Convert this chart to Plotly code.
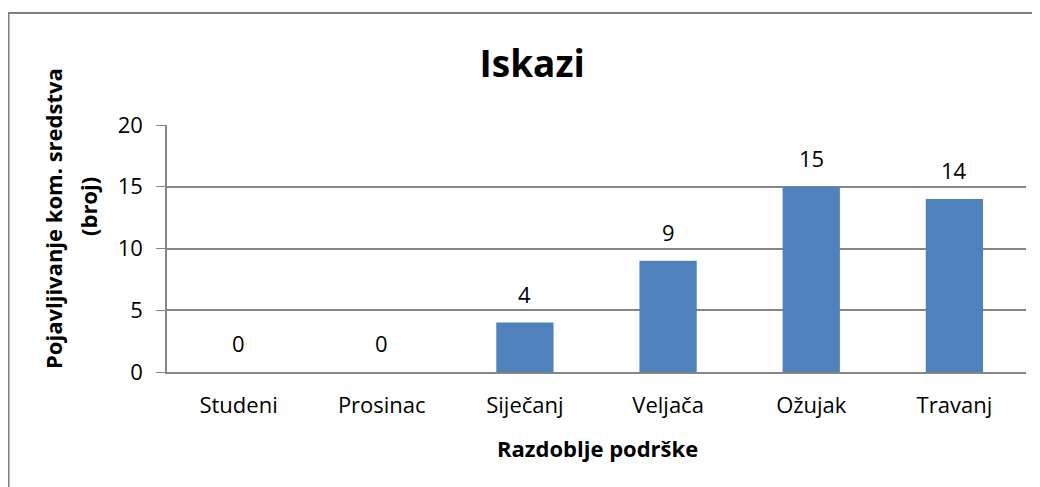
import plotly.graph_objects as go

months = ["Studeni", "Prosinac", "Siječanj", "Veljača", "Ožujak", "Travanj"]
counts = [0, 0, 4, 9, 15, 14]
y_ticks = [0, 5, 10, 15, 20]

FONT = "Open Sans"
GRID = "#868686"

fig = go.Figure(
    go.Bar(
        x=months,
        y=counts,
        marker=dict(color="#4F81BD", line=dict(width=0)),
        hoverinfo="x+y",
    )
)

# page body adds 8px, so margins are measured from that offset
fig.update_layout(
    width=1040,
    height=487,
    margin=dict(l=159, r=22, t=117, b=123),
    paper_bgcolor="white",
    plot_bgcolor="white",
    bargap=0.6,
    showlegend=False,
    font=dict(family=FONT, size=22, color="black"),
    title=dict(
        text="<b>Iskazi</b>",
        x=0.504,
        xanchor="center",
        y=1 - 56 / 487,
        yanchor="middle",
        font=dict(family=FONT, size=37, color="black"),
    ),
)

fig.update_yaxes(
    range=[0, 20],
    tickvals=y_ticks,
    showgrid=True,
    gridcolor=GRID,
    gridwidth=1.5,
    showline=True,
    linecolor=GRID,
    linewidth=1.5,
    ticks="outside",
    ticklen=9,
    tickcolor=GRID,
    zeroline=False,
    ticklabelstandoff=9,
    tickfont=dict(family=FONT, size=22),
)
fig.update_xaxes(
    showline=True,
    linecolor=GRID,
    linewidth=1.5,
    ticks="",
    ticklabelstandoff=13,
    tickfont=dict(family=FONT, size=22),
)

# value labels above the bars
for m, c in zip(months, counts):
    fig.add_annotation(
        x=m, y=c, text=str(c),
        xanchor="center", yanchor="bottom",
        yshift=12, showarrow=False,
        font=dict(family=FONT, size=22),
    )


def paper_x(px):
    return (px - 159) / 859


def paper_y(py):
    return (364 - py) / 247


# axis titles (two lines of the y title placed separately)
for txt, px, py in [("Pojavljivanje kom. sredstva", 45, 211), ("(broj)", 80, 199)]:
    fig.add_annotation(
        text=f"<b>{txt}</b>",
        xref="paper", yref="paper",
        x=paper_x(px), y=paper_y(py),
        xanchor="center", yanchor="middle",
        textangle=-90,
        showarrow=False,
        font=dict(family=FONT, size=22),
    )
fig.add_annotation(
    text="<b>Razdoblje podrške</b>",
    xref="paper", yref="paper",
    x=paper_x(589), y=paper_y(440),
    xanchor="center", yanchor="middle",
    showarrow=False,
    font=dict(family=FONT, size=22),
)

# chart frame (runs past the right and bottom edges of the image)
fig.add_shape(
    type="rect",
    xref="paper", yref="paper",
    x0=paper_x(0.5), x1=1.1, y0=-0.6, y1=paper_y(5),
    line=dict(color="#7F7F7F", width=2),
    layer="below",
)

fig.write_html("out.html")
